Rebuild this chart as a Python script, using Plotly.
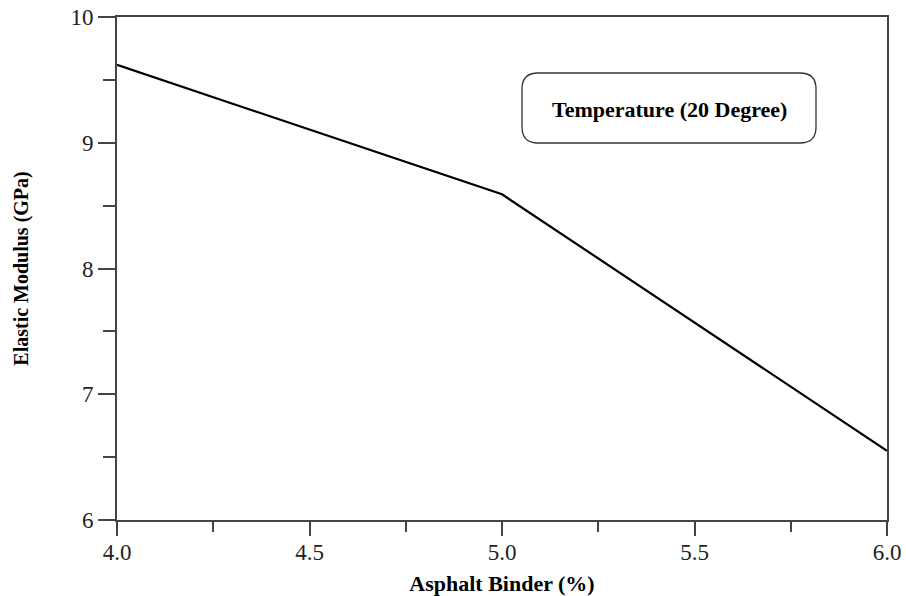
import plotly.graph_objects as go

asphalt_binder = [4.0, 5.0, 6.0]
elastic_modulus = [9.62, 8.59, 6.55]
x_ticks = [4.0, 4.5, 5.0, 5.5, 6.0]
x_tick_labels = ["4.0", "4.5", "5.0", "5.5", "6.0"]
y_ticks = [6, 7, 8, 9, 10]

W, H = 906, 596
L, R, T, B = 117, 19, 17, 76
pw, ph = W - L - R, H - T - B

fig = go.Figure()
fig.add_trace(go.Scatter(x=asphalt_binder, y=elastic_modulus, mode="lines",
                         line=dict(color="black", width=2.2), showlegend=False))

font = "Liberation Serif, Times New Roman, serif"
axis_common = dict(showgrid=False, zeroline=False, showline=True, linecolor="#444",
                   linewidth=2, mirror=True, ticks="outside", tickcolor="#444",
                   tickwidth=1.5, automargin=False,
                   tickfont=dict(family=font, size=23, color="#222"))

fig.update_xaxes(range=[4.0, 6.0], tickvals=x_ticks, ticktext=x_tick_labels, ticklen=14,
                 ticklabelstandoff=-4,
                 minor=dict(ticks="outside", ticklen=10, dtick=0.25, tickcolor="#444", tickwidth=1.5),
                 title=dict(text="<b>Asphalt Binder (%)</b>", font=dict(family=font, size=22, color="black"), standoff=14),
                 **axis_common)
fig.update_yaxes(range=[6, 10], tickvals=y_ticks, ticklen=17,
                 minor=dict(ticks="outside", ticklen=12, dtick=0.5, tickcolor="#444", tickwidth=1.5),
                 title=dict(text="<b>Elastic Modulus (GPa)</b>", font=dict(family=font, size=20, color="black"), standoff=36),
                 **axis_common)

# rounded box (paper coords)
x0p, x1p, y0p, y1p = 522, 816, 73, 143
r = 16
def px(x):
    return (x - L) / pw
def py(y):
    return 1 - (y - T) / ph
path = (f"M {px(x0p + r)},{py(y0p)} L {px(x1p - r)},{py(y0p)} "
        f"Q {px(x1p)},{py(y0p)} {px(x1p)},{py(y0p + r)} "
        f"L {px(x1p)},{py(y1p - r)} Q {px(x1p)},{py(y1p)} {px(x1p - r)},{py(y1p)} "
        f"L {px(x0p + r)},{py(y1p)} Q {px(x0p)},{py(y1p)} {px(x0p)},{py(y1p - r)} "
        f"L {px(x0p)},{py(y0p + r)} Q {px(x0p)},{py(y0p)} {px(x0p + r)},{py(y0p)} Z")
fig.add_shape(type="path", path=path, xref="paper", yref="paper",
              line=dict(color="#333", width=1.3), fillcolor="white")
fig.add_annotation(x=px((x0p + x1p) / 2), y=py((y0p + y1p) / 2 + 1), xref="paper", yref="paper",
                   xanchor="center", yanchor="middle",
                   text="<b>Temperature (20 Degree)</b>", showarrow=False,
                   font=dict(family=font, size=22, color="black"))

fig.update_layout(width=W, height=H, margin=dict(l=L, r=R, t=T, b=B),
                  paper_bgcolor="white", plot_bgcolor="white")
fig.write_html("out.html")
